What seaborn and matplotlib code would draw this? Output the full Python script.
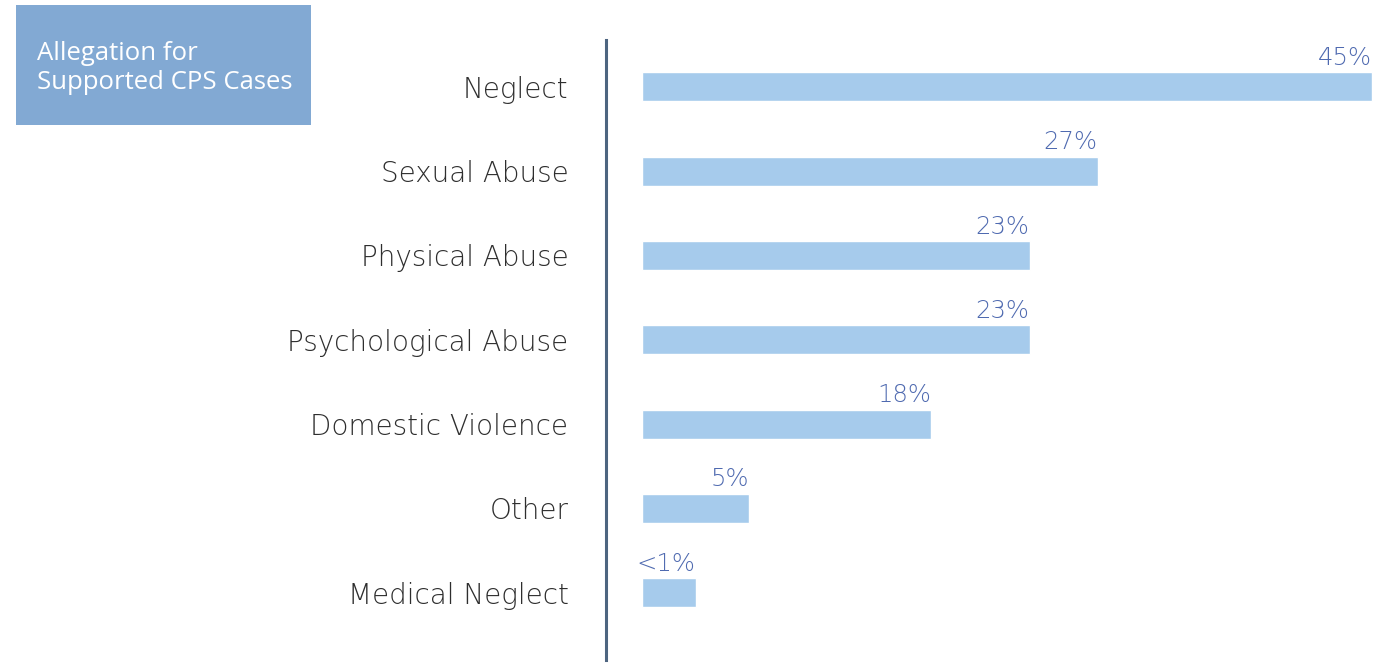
import matplotlib
matplotlib.use("Agg")
import matplotlib.pyplot as plt
import seaborn as sns
import pandas as pd
from matplotlib.patches import Rectangle

categories = ["Neglect", "Sexual Abuse", "Physical Abuse", "Psychological Abuse",
              "Domestic Violence", "Other", "Medical Neglect"]
bar_values = [45.0, 28.1, 23.9, 23.9, 17.8, 6.6, 3.3]
value_labels = ["45%", "27%", "23%", "23%", "18%", "5%", "<1%"]
title_text = "Allegation for\nSupported CPS Cases"

df = pd.DataFrame({"category": categories, "value": bar_values})

sns.set_theme(style="white")
plt.rcParams["font.family"] = ["DejaVu Sans"]

fig = plt.figure(figsize=(13.89, 6.66), dpi=100)
W, H = 1389, 666
ax = fig.add_axes([606 / W, 1 - 660 / H, (1380 - 606) / W, (660 - 40) / H])

sns.barplot(data=df, x="value", y="category", orient="h", color="#a6cbec",
            saturation=1, width=0.344, ax=ax)

scale = 16.22
ax.set_xlim(-(642 - 606) / scale, (1380 - 642) / scale)
ax.set_ylim(6.8, -0.557)

for i, (v, lab) in enumerate(zip(bar_values, value_labels)):
    ax.text(v, i - 0.2, lab, ha="right", va="bottom", fontsize=17.5,
            color="#4f6ab0", fontweight="light")

ax.set_xlabel("")
ax.set_ylabel("")
ax.set_xticks([])
ax.tick_params(axis="y", length=0, pad=27, labelsize=20, labelcolor="#2e2e2e")
for lbl in ax.get_yticklabels():
    lbl.set_fontweight("light")
    lbl.set_va("center_baseline")
for s in ["top", "right", "bottom"]:
    ax.spines[s].set_visible(False)
ax.spines["left"].set_color("#4d6580")
ax.spines["left"].set_linewidth(2.2)

# Title box
fig.patches.append(Rectangle((16 / W, 1 - 125 / H), (311 - 16) / W, (125 - 5) / H,
                             transform=fig.transFigure, facecolor="#82a9d3",
                             edgecolor="none"))
fig.text(37 / W, 1 - 68 / H, title_text, ha="left", va="center", fontsize=18.5,
         color="white", family=["Open Sans", "DejaVu Sans"], linespacing=1.22)

fig.savefig("out.png", dpi=100)
